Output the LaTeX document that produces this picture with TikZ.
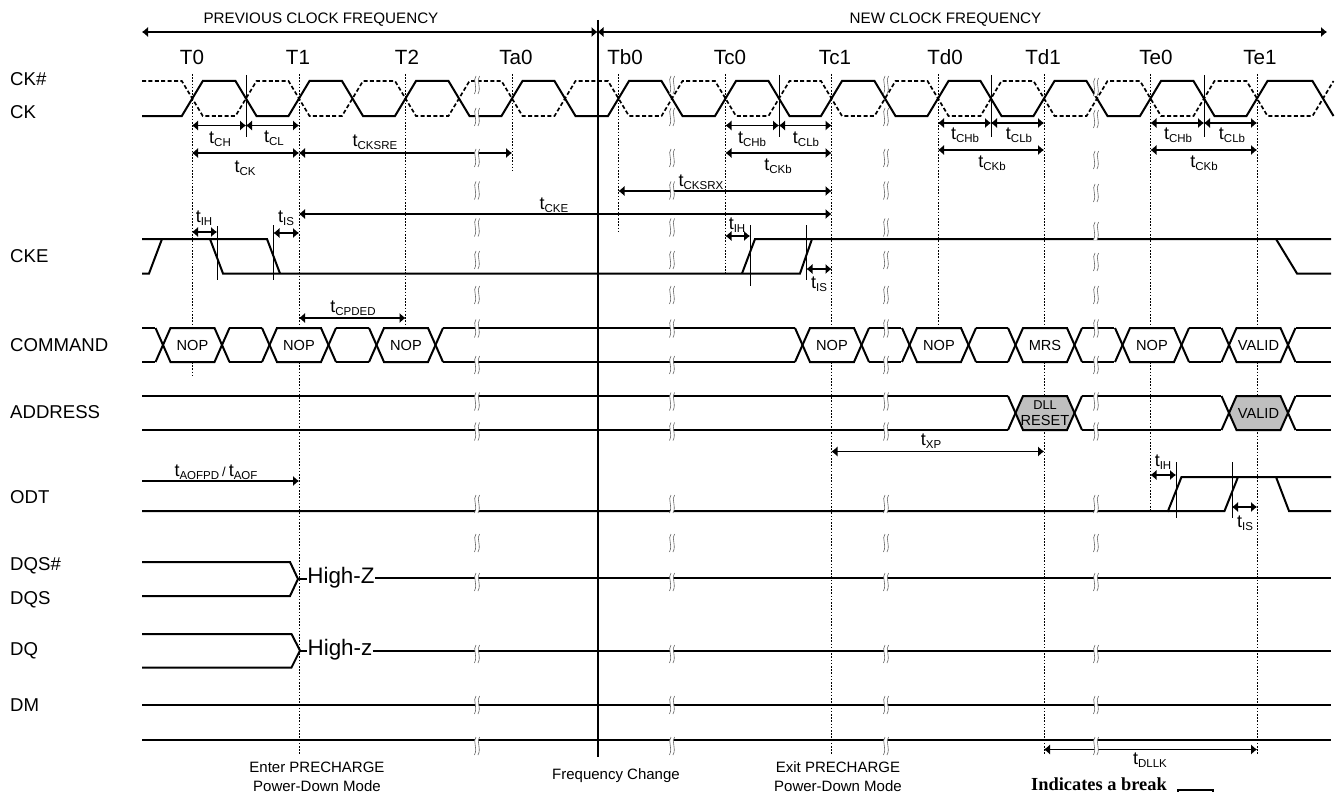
\documentclass[tikz,border=0pt]{standalone}
\usepackage{fontspec}
\setmainfont{Liberation Sans}
\newfontfamily\serifbold{Liberation Serif}
\usetikzlibrary{arrows.meta}
\tikzset{
  sig/.style={line width=2pt,line join=miter},
  dsig/.style={line width=1.7pt,dash pattern=on 4pt off 2.4pt},
  dotv/.style={line width=1pt,dash pattern=on 1.6pt off 1.6pt},
  tickv/.style={line width=0.9pt},
  dimm/.style={line width=1.1pt,{Latex[length=6pt,width=10.5pt]}-{Latex[length=6pt,width=10.5pt]}},
  dimr/.style={line width=1.1pt,-{Latex[length=6pt,width=10.5pt]}},
  lab/.style={inner sep=0pt,anchor=base west,font=\fontsize{18.6}{20}\selectfont},
  tlab/.style={inner sep=0pt,anchor=base,font=\fontsize{20.6}{22}\selectfont},
  hdr/.style={inner sep=0pt,font=\fontsize{15.2}{17}\selectfont},
  tmg/.style={inner sep=0pt},
  captxt/.style={inner sep=0pt,font=\fontsize{15}{19}\selectfont},
  brkline/.style={line width=0.6pt,draw=black!60},
}
\newcommand{\tsb}[1]{{\fontsize{18}{18}\selectfont t}\raisebox{-3pt}{\fontsize{11.5}{12}\selectfont #1}}
\newcommand{\brk}[2]{%
  \begin{scope}[shift={(#1,#2)}]
    \fill[white] (-1,-9) .. controls (-4.8,-5) and (1.2,2) .. (-2.6,9) -- (1,9) .. controls (4.8,5) and (-1.2,-2) .. (2.6,-9) -- cycle;
    \draw[brkline] (-1,-9) .. controls (-4.8,-5) and (1.2,2) .. (-2.6,9);
    \draw[brkline] (2.6,-9) .. controls (-1.2,-5) and (4.8,2) .. (1,9);
  \end{scope}}
% #1 name, #2 centre x, #3 fill, #4 text; uses \rhi, \rlo, \rmid
\newcommand{\hexb}[4]{%
  \begin{scope}[shift={(#2,0)}]
    \draw[sig,fill=#3] (-29.5,\rmid) -- (-22,\rhi) -- (22,\rhi) -- (29.5,\rmid) -- (22,\rlo) -- (-22,\rlo) -- cycle;
    \draw[sig] (-37,\rhi) -- (-29.5,\rmid) -- (-37,\rlo);
    \draw[sig] (37,\rhi) -- (29.5,\rmid) -- (37,\rlo);
    \node[inner sep=0pt,align=center,font=\fontsize{14.6}{15.5}\selectfont] (#1) at (0,\rmid) {#4};
  \end{scope}}
\newcommand{\flats}[1]{\foreach \p/\q in {#1}{\draw[sig] (\p,\rhi) -- (\q,\rhi); \draw[sig] (\p,\rlo) -- (\q,\rlo);}}
\def\cklist{192.3/116/81,246/81/116,299/116/81,352.5/81/116,405.5/116/81,459/81/116,512/116/81,565/81/116,618.5/116/81,672/81/116,725.5/116/81,779/81/116,831.5/116/81,885/81/116,938/116/81,991/81/116,1044/116/81,1097/81/116,1150.5/116/81,1204/81/116,1257/116/81,1323/81/116}
\begin{document}
\begin{tikzpicture}[x=1pt,y=-1pt]
\useasboundingbox (0,0) rectangle (1339,792);
\clip (0,0) rectangle (1339,792);
\fill[white] (0,0) rectangle (1339,792);

% named grid coordinates
\foreach \n/\x in {t0/192,t1/299,t2/405.5,ta/512,tb/618.5,tc0/725.5,tc1/831.5,td0/938,td1/1044,te0/1150.5,te1/1257,fc/597.5}
  \coordinate (\n) at (\x,0);

% dotted verticals
\foreach \n/\b in {t0/375,t1/755,t2/328,ta/171,tb/232,tc0/273,tc1/755,td0/328,td1/755,te0/511,te1/755}
  \draw[dotv] (\n |- 0,74) -- (\n |- 0,\b);

% header
\draw[line width=2pt] (fc |- 0,20) -- (fc |- 0,757);
\coordinate (hl) at (142,32);
\coordinate (hr) at (1327,32);
\draw[dimm] (hl) -- (fc |- hl);
\draw[dimm] (fc |- hl) -- (hr);
\node[hdr] (prev) at (321,20) {PREVIOUS CLOCK FREQUENCY};
\node[hdr] (new) at (945.5,20) {NEW CLOCK FREQUENCY};
\foreach \n/\x/\s in {lt0/192/T0,lt1/298/T1,lt2/407/T2,lta/516/Ta0,ltb/625/Tb0,ltc0/730/Tc0,ltc1/835/Tc1,ltd0/945/Td0,ltd1/1043/Td1,lte0/1156/Te0,lte1/1260/Te1}
  \node[tlab] (\n) at (\x,64.5) {\s};

% left labels
\foreach \n/\y/\s in {ckn/85.5/CK\#,ck/118.5/CK,cke/262.5/CKE,cmd/351.5/COMMAND,addr/418.5/ADDRESS,odt/503.5/ODT,dqsn/570.5/DQS\#,dqs/604.5/DQS,dq/655.5/DQ,dm/711.5/DM}
  \node[lab] (\n) at (10,\y) {\s};

% clocks
\draw[dsig] (142,81) foreach \c/\f/\t in \cklist { -- ({\c-10.5},{197-\f}) -- ({\c+10.5},{197-\t}) };
\draw[sig] (142,116) foreach \c/\f/\t in \cklist { -- ({\c-10.5},\f) -- ({\c+10.5},\t) };

% CKE
\draw[sig] (142,239) -- (267,239) -- (280,273.5);
\draw[sig] (142,273.5) -- (149,273.5) -- (162,239);
\draw[sig] (210,239) -- (223,273.5) -- (800,273.5) -- (812,239);
\draw[sig] (742,273.5) -- (755,239) -- (1331,239);
\draw[sig] (1276,239) -- (1297,273.5) -- (1331,273.5);
\draw[tickv] (217,226) -- (217,280);
\draw[tickv] (273.5,225) -- (273.5,280);
\draw[tickv] (750,225) -- (750,286);
\draw[tickv] (806.5,225) -- (806.5,280);

% COMMAND
\def\rhi{328}\def\rlo{362}\def\rmid{345}
\flats{142/155,229/262,336/369,443/795,869/901,976/1008,1082/1114,1189/1221,1296/1331}
\hexb{c1}{192.5}{white}{NOP}
\hexb{c2}{299}{white}{NOP}
\hexb{c3}{406}{white}{NOP}
\hexb{c4}{832}{white}{NOP}
\hexb{c5}{939}{white}{NOP}
\hexb{c6}{1045}{white}{MRS}
\hexb{c7}{1152}{white}{NOP}
\hexb{c8}{1258.5}{white}{VALID}

% ADDRESS
\def\rhi{396}\def\rlo{430}\def\rmid{413}
\flats{142/1008,1082/1221,1296/1331}
\hexb{a1}{1045}{black!25}{\fontsize{12.8}{15}\selectfont DLL\\RESET}
\hexb{a2}{1258.5}{black!25}{VALID}

% ODT
\draw[sig] (142,511) -- (1168,511) -- (1181.5,477) -- (1331,477);
\draw[sig] (1168,511) -- (1224.5,511) -- (1238,477);
\draw[sig] (1276,477) -- (1289,511) -- (1331,511);
\draw[tickv] (1176,462) -- (1176,518);
\draw[tickv] (1232,462) -- (1232,518);

% DQS / DQ / DM
\node[inner sep=0pt,font=\fontsize{22.4}{24}\selectfont] (hz) at (341,578) {High-Z};
\node[inner sep=0pt,font=\fontsize{22.4}{24}\selectfont] (hzz) at (340,649.5) {High-z};
\draw[sig] (142,562) -- (290,562) -- (298,579) -- (290,596) -- (142,596);
\draw[sig] (298,579) -- (hz.west |- 0,579);
\draw[sig] (hz.east |- 0,578) -- (1331,578);
\draw[sig] (142,634) -- (291.5,634) -- (300,650.5) -- (291.5,667.5) -- (142,667.5);
\draw[sig] (300,650.5) -- (hzz.west |- 0,650.5);
\draw[sig] (hzz.east |- 0,650.5) -- (1331,650.5);
\draw[sig] (142,705) -- (1331,705);
\draw[sig] (142,739.5) -- (1331,739.5);

% centre tick lines on clock
\foreach \x in {246,779,991,1204} \draw[tickv] (\x,75) -- (\x,137);

% dimension arrows
\draw[dimm] (t0 |- 0,125.5) -- (246,125.5);
\draw[dimm] (246,125.5) -- (t1 |- 0,125.5);
\draw[dimm] (t0 |- 0,153) -- (t1 |- 0,153);
\draw[dimm] (t1 |- 0,153) -- (ta |- 0,153);
\draw[dimm] (tc0 |- 0,125.5) -- (779,125.5);
\draw[dimm] (779,125.5) -- (tc1 |- 0,125.5);
\draw[dimm] (tc0 |- 0,153) -- (tc1 |- 0,153);
\draw[dimm] (td0 |- 0,123) -- (991,123);
\draw[dimm] (991,123) -- (td1 |- 0,123);
\draw[dimm] (td0 |- 0,150) -- (td1 |- 0,150);
\draw[dimm] (te0 |- 0,123) -- (1204,123);
\draw[dimm] (1204,123) -- (te1 |- 0,123);
\draw[dimm] (te0 |- 0,150) -- (te1 |- 0,150);
\draw[dimm] (tb |- 0,191) -- (tc1 |- 0,191);
\draw[dimm] (t1 |- 0,214) -- (tc1 |- 0,214);
\draw[dimm] (t0 |- 0,232) -- (217,232);
\draw[dimm] (273.5,233) -- (t1 |- 0,233);
\draw[dimm] (tc0 |- 0,236) -- (750,236);
\draw[dimm] (806.5,269) -- (tc1 |- 0,269);
\draw[dimm] (t1 |- 0,318) -- (t2 |- 0,318);
\draw[dimm] (tc1 |- 0,451.5) -- (td1 |- 0,451.5);
\draw[dimr] (142,481) -- (t1 |- 0,481);
\draw[dimm] (te0 |- 0,475) -- (1176,475);
\draw[dimm] (1232,507) -- (te1 |- 0,507);
\draw[dimm] (td1 |- 0,749.5) -- (te1 |- 0,749.5);

% breaks
\foreach \x in {477,672,886}{
  \foreach \y in {85,117,158,190.5,227.5,260,295,328.5,365,401.5,431.5,504,543,582,654,705,746}{\brk{\x}{\y}}}
\foreach \y in {87,119,160,193,231,262,295,328.5,365,401.5,431.5,504,543,582,654,705,746}{\brk{1096}{\y}}

% timing labels
\foreach \n/\x/\y/\s in {
  m1/220/139/CH, m2/274/138/CL, m3/245/168/CK, m4/375/142/CKSRE,
  m5/752/139/CHb, m6/806/139/CLb, m7/778/166/CKb,
  m8/965/135/CHb, m9/1019/135/CLb, m10/992/163/CKb,
  m11/1178/135/CHb, m12/1232/135/CLb, m13/1204/163/CKb,
  m14/701/182/CKSRX, m15/554/205/CKE, m16/204/218/IH, m17/286/218/IS,
  m18/737/225/IH, m19/819/284/IS, m20/353/308/CPDED, m21/931/441/XP,
  m22/1163/462/IH, m23/1245/523/IS, m24/1150/760/DLLK}
  \node[tmg] (\n) at (\x,\y) {\tsb{\s}};
\node[tmg] (m25) at (216,472) {\tsb{AOFPD}\hspace{3pt}{\fontsize{13}{13}\selectfont /}\hspace{3pt}\tsb{AOF}};

% captions
\node[captxt,align=center] (c-enter) at (317,776.5) {Enter PRECHARGE\\Power-Down Mode};
\node[captxt] (c-freq) at (616,776) {Frequency Change};
\node[captxt,align=center] (c-exit) at (838,776.5) {Exit PRECHARGE\\Power-Down Mode};
\node[inner sep=0pt,font=\serifbold\bfseries\fontsize{18.4}{20}\selectfont,anchor=base west] (c-ind) at (1031,790.5) {Indicates a break};
\draw[line width=1.3pt] (1178,800) -- (1178,790) -- (1213,790) -- (1213,800);
\end{tikzpicture}
\end{document}
